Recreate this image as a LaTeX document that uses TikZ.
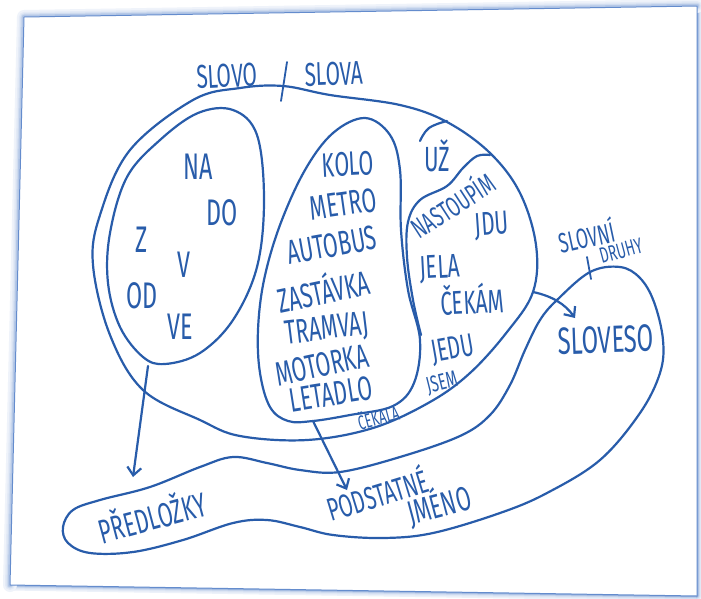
\documentclass[tikz,border=0pt]{standalone}
\usepackage{fontspec}
\newfontfamily\hand{Fira Sans}[FakeStretch=0.63]
\usetikzlibrary{arrows.meta}
\definecolor{ink}{RGB}{40,92,170}
\definecolor{paperedge}{RGB}{100,140,205}
\begin{document}
\begin{tikzpicture}[x=1pt,y=-1pt,
  line/.style={draw=ink, line width=2.2pt, line cap=round, line join=round},
  lbl/.style={text=ink, inner sep=0pt, font=\hand\fontsize{#1}{#1}\selectfont},
  arr/.style={line, -{Straight Barb[length=8pt,width=14pt,line width=2.2pt]}}]
\fill[white] (0,0) rectangle (701,598);
\useasboundingbox (0,0) rectangle (701,598);
% paper with soft shadow
\foreach \w/\c in {11/12,8/20,5.5/32,3.5/50,2/70}{
  \draw[draw=paperedge!\c, line width=\w pt, line join=round] (24,17) -- (697,6) -- (697,596) -- (10,585) -- cycle;}
\foreach \w/\c in {14/10,10/18,7/30,4.5/48}{
  \draw[draw=paperedge!\c, line width=\w pt, line join=round, line cap=round] (10,585) -- (24,17) -- (697,6);}
\fill[white] (24,17) -- (697,6) -- (697,596) -- (10,585) -- cycle;
\draw[draw=paperedge, line width=1pt, line join=round] (24,17) -- (697,6) -- (697,596) -- (10,585) -- cycle;

% big outer shape SLOVO / SLOVA
\draw[line] plot[smooth cycle, tension=0.6] coordinates {(193,100) (240,88) (283,86) (330,95) (400,105) (447,122) (490,153) (520,193) (536,245) (533,292) (507,332) (470,373) (430,402) (373,428) (307,440) (240,436) (200,420) (143,390) (110,335) (93,265) (100,215) (130,150)};
% preposition blob
\draw[line] plot[smooth cycle, tension=0.6] coordinates {(233,110) (257,135) (264,200) (257,267) (233,320) (200,353) (165,364) (143,357) (120,327) (108,283) (110,233) (127,177) (160,140) (198,113)};
% noun blob
\draw[line] plot[smooth cycle, tension=0.6] coordinates {(365,118) (390,135) (400,170) (401,230) (408,290) (420,340) (414,383) (393,406) (350,415) (313,421) (288,421) (270,407) (260,373) (258,330) (264,280) (280,225) (305,170) (333,133)};
% verb region inner line
\draw[line] plot[smooth, tension=0.6] coordinates {(490,155) (477,156) (463,168) (447,186) (420,200) (408,222) (407,257) (413,300) (421,335)};
% UZ arc
\draw[line] plot[smooth, tension=0.7] coordinates {(420,141) (429,128) (447,121)};

% lower band (slovni druhy)
\draw[line] plot[smooth cycle, tension=0.6] coordinates {(63,527) (73,510) (100,500) (150,487) (200,467) (233,457) (267,463) (300,470) (340,472) (400,457) (460,436) (490,415) (510,385) (525,350) (540,320) (557,300) (590,272) (620,267) (640,278) (654,302) (663,340) (660,373) (640,413) (600,460) (547,493) (500,513) (433,533) (383,538) (333,535) (300,527) (267,520) (233,523) (183,540) (133,552) (90,553) (68,543)};

% slashes
\draw[line, line width=1.8pt] (287,62) -- (281,101);
\draw[line, line width=1.8pt] (587,257) -- (591,279);

% arrows
\coordinate (a1s) at (148,366);
\coordinate (a1e) at (133,477);
\coordinate (a2s) at (313,421);
\coordinate (a2e) at (347,490);
\coordinate (a3s) at (533,292);
\coordinate (a3e) at (575,318);
\draw[arr] (a1s) -- (a1e);
\draw[arr] (a2s) -- (a2e);
\draw[arr] (a3s) .. controls (552,296) and (565,304) .. (a3e);

% texts
\node[lbl=33, rotate=3] (slovo) at (227,76) {SLOVO};
\node[lbl=33, rotate=2] (slova) at (334,74) {SLOVA};

\node[lbl=37] (na) at (198,167) {NA};
\node[lbl=37] (do) at (222,213) {DO};
\node[lbl=37] (z) at (142,240) {Z};
\node[lbl=37] (v) at (184,265) {V};
\node[lbl=37] (od) at (142,296) {OD};
\node[lbl=37] (ve) at (180,327) {VE};

\node[lbl=34, rotate=3] (kolo) at (348,164) {KOLO};
\node[lbl=34, rotate=8] (metro) at (343,204) {METRO};
\node[lbl=34, rotate=10] (autobus) at (332,245) {AUTOBUS};
\node[lbl=34, rotate=12] (zastavka) at (323,289) {ZASTÁVKA};
\node[lbl=34, rotate=7] (tramvaj) at (327,330) {TRAMVAJ};
\node[lbl=34, rotate=12] (motorka) at (322,365) {MOTORKA};
\node[lbl=34, rotate=9] (letadlo) at (331,394) {LETADLO};
\node[lbl=20, rotate=15] (cekala) at (378,416) {ČEKALA};

\node[lbl=35] (uz) at (437,156) {UŽ};
\node[lbl=28, rotate=33] (nastoupim) at (452,204) {NASTOUPÍM};
\node[lbl=33, rotate=4] (jdu) at (492,226) {JDU};
\node[lbl=33, rotate=3] (jela) at (440,269) {JELA};
\node[lbl=33, rotate=3] (cekam) at (472,299) {ČEKÁM};
\node[lbl=32, rotate=10] (jedu) at (453,350) {JEDU};
\node[lbl=23, rotate=14] (jsem) at (442,383) {JSEM};

\node[lbl=28, rotate=12] (slovni) at (586,235) {SLOVNÍ};
\node[lbl=22, rotate=15] (druhy) at (621,251) {DRUHY};
\node[lbl=38, rotate=2] (sloveso) at (606,340) {SLOVESO};

\node[lbl=34, rotate=15] (predlozky) at (152,515) {PŘEDLOŽKY};
\node[lbl=32, rotate=17] (podstatne) at (377,493) {PODSTATNÉ};
\node[lbl=34, rotate=15] (jmeno) at (439,504) {JMÉNO};
\end{tikzpicture}
\end{document}
